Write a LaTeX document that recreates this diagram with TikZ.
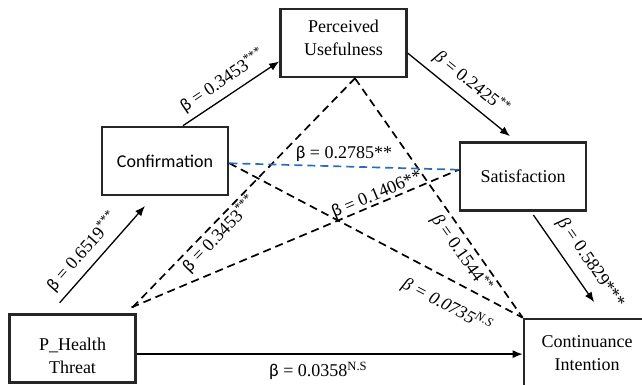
\documentclass[tikz,border=0pt]{standalone}
\usepackage{fontspec}
\setmainfont{Liberation Serif}
\newfontfamily\calibri{Carlito}
\usetikzlibrary{arrows.meta}
\newcommand{\bup}{{\calibri β}}
\newcommand{\bsl}{\textit{β}}

\begin{document}
\begin{tikzpicture}[x=1pt,y=-1pt,
  var/.style={rectangle,draw=black!85,line width=2.6pt,minimum width=126pt,minimum height=68pt,inner sep=0pt,align=center,font=\fontsize{18}{23}\selectfont},
  vartext/.style={align=center,font=\fontsize{18}{23}\selectfont},
  link/.style={line width=1.3pt,-{Latex[length=10pt,width=8pt]}},
  mlink/.style={line width=1.7pt,dash pattern=on 8pt off 5pt},
  coef/.style={sloped,font=\fontsize{18}{20}\selectfont}]
\useasboundingbox (0,0) rectangle (642,385);
\clip (0,0) rectangle (642,385);
\node [var,label={[vartext,yshift=5pt]center:Perceived\\Usefulness}] (pu) at (343.5,43) {};
\node [var,font=\calibri\fontsize{18}{23}\selectfont] (conf) at (165,161) {Confirmation};
\node [var] (sat) at (523,176.5) {Satisfaction};
\node [var,label={[vartext,yshift=-7pt]center:P\_Health\\Threat}] (pht) at (72.5,348.5) {};
\node [var] (ci) at (587,353) {Continuance\\Intention};
% direct paths
\draw [link] (conf.63) -- node [coef,above=3pt] {\bup{} = 0.3453\textsuperscript{***}} (pu.196);
\draw [link,shorten <=14pt,shorten >=13pt] (pht.122) -- node [coef,pos=0.43,above=4pt] {\bup{} = 0.6519\textsuperscript{***}} (conf.252);
\draw [link,shorten >=8pt] (pu.351) -- node [coef,pos=0.49,above=4pt] {\bsl{} = 0.2425\textsuperscript{**}} (sat.101);
\draw [link,shorten <=4pt,shorten >=19pt] (sat.283) -- node [coef,pos=0.59,above=7pt] {\bsl{} = 0.5829***} (ci.63);
\draw [link] (pht.355) -- node [pos=0.47,below=4pt,font=\fontsize{18}{20}\selectfont] {\bup{} = 0.0358\textsuperscript{N.S}} (pht.355 -| ci.west);
% mediated paths
\draw [mlink,shorten <=8pt] (pht.33) -- node [coef,pos=0.37,below=0pt,inner sep=1.5pt] {\bup{} = 0.3453\textsuperscript{***}} (pu.288);
\draw [mlink,shorten <=15pt] (pht.38) -- node [coef,pos=0.77,above=0pt,inner sep=0pt] {\bup{} = 0.1406**} (sat.174);
\draw [mlink] (pu.288) -- node [coef,pos=0.7,below=0pt] {\bsl{} = 0.1544\textsuperscript{**}} (ci.north west);
\draw [mlink] (conf.358) -- node [coef,pos=0.78,below=11pt] {\itshape β = 0.0735\textsuperscript{N.S}} (ci.north west);
\draw [mlink,draw={rgb,255:red,40;green,110;blue,190}] (conf.358) -- node [above=1pt,font=\fontsize{18}{20}\selectfont] {\bup{} = 0.2785**} (sat.174);
\end{tikzpicture}
\end{document}
